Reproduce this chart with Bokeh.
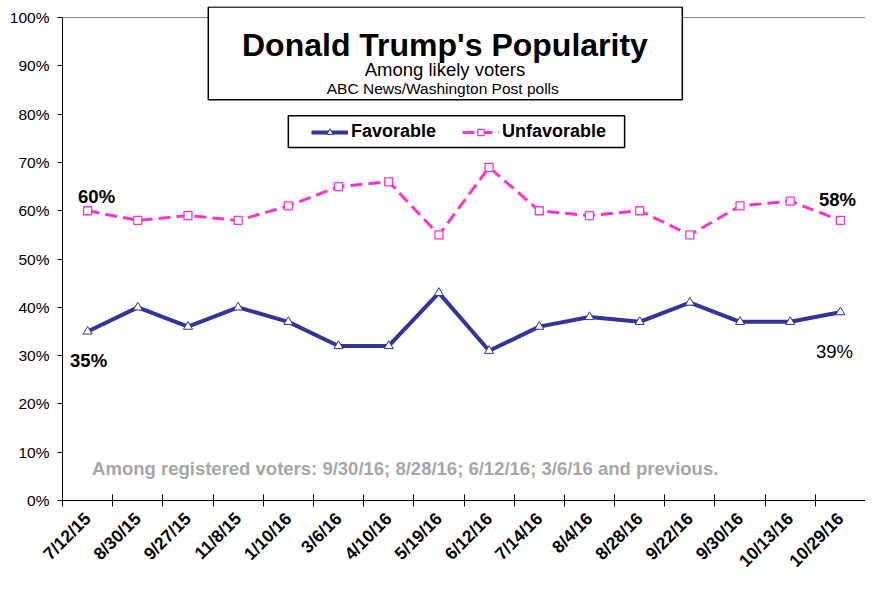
import math
from bokeh.plotting import figure
from bokeh.models import (Range1d, FixedTicker, LinearAxis, Span, BoxAnnotation,
                          Label, Legend, LegendItem)
from bokeh.embed import file_html
from bokeh.resources import INLINE

# ---- data ----
dates = ["7/12/15", "8/30/15", "9/27/15", "11/8/15", "1/10/16", "3/6/16", "4/10/16",
         "5/19/16", "6/12/16", "7/14/16", "8/4/16", "8/28/16", "9/22/16", "9/30/16",
         "10/13/16", "10/29/16"]
favorable = [35, 40, 36, 40, 37, 32, 32, 43, 31, 36, 38, 37, 41, 37, 37, 39]
unfavorable = [60, 58, 59, 58, 61, 65, 66, 55, 69, 60, 59, 60, 55, 61, 62, 58]
y_ticks = [0, 10, 20, 30, 40, 50, 60, 70, 80, 90, 100]
y_tick_labels = [f"{v}%" for v in y_ticks]

title_text = "Donald Trump's Popularity"
subtitle_text = "Among likely voters"
source_text = "ABC News/Washington  Post polls"
note_text = "Among registered voters: 9/30/16; 8/28/16; 6/12/16; 3/6/16 and previous."

FONT = "Liberation Sans"
BLUE = "#333399"
PINK = "#FF33CC"

n = len(dates)
xs = [i + 0.5 for i in range(n)]

p = figure(frame_width=803, frame_height=494,
           x_range=Range1d(0, n), y_range=Range1d(0, 102.3),
           output_backend="svg", toolbar_location=None,
           min_border_left=62, min_border_top=6, min_border_right=0, min_border_bottom=0)
p.xgrid.visible = False
p.ygrid.visible = False
p.outline_line_color = None
p.background_fill_color = "white"
p.border_fill_color = "white"

# x axis
xa = p.xaxis[0]
xa.ticker = FixedTicker(ticks=xs, minor_ticks=list(range(n + 1)))
xa.major_label_overrides = {x: d for x, d in zip(xs, dates)}
xa.major_label_orientation = math.pi / 4
xa.major_label_text_font = FONT
xa.major_label_text_font_style = "bold"
xa.major_label_text_font_size = "17.5px"
xa.major_label_text_color = "black"
xa.major_tick_line_color = None
xa.major_tick_out = 6
xa.major_tick_in = 0
xa.minor_tick_line_color = "black"
xa.minor_tick_out = 6
xa.minor_tick_in = 6
xa.major_label_standoff = 9
xa.axis_line_color = "black"

# y axis
ya = p.yaxis[0]
ya.ticker = FixedTicker(ticks=y_ticks, minor_ticks=[])
ya.major_label_overrides = {v: t for v, t in zip(y_ticks, y_tick_labels)}
ya.bounds = (0, 100)
ya.major_tick_out = 5
ya.major_tick_in = 0
ya.major_tick_line_color = "black"
ya.minor_tick_line_color = None
ya.major_label_text_font = FONT
ya.major_label_text_font_size = "15.5px"
ya.major_label_text_color = "black"
ya.major_label_standoff = 8
ya.axis_line_color = "black"

# right border (gray) and top border
ra = LinearAxis(bounds=(0, 100), ticker=FixedTicker(ticks=[]),
                axis_line_color="#808080", major_tick_line_color=None,
                minor_tick_line_color=None, major_label_text_font_size="0px",
                major_tick_out=0, major_tick_in=0, major_label_standoff=0)
p.add_layout(ra, "right")
p.add_layout(Span(location=100, dimension="width", line_color="#808080", line_width=1))

# series
fav_line = p.line(xs, favorable, line_color=BLUE, line_width=4)
fav_pts = p.scatter(xs, favorable, marker="triangle", size=9, fill_color="white",
                    line_color=BLUE, line_width=1)
unf_line = p.line(xs, unfavorable, line_color=PINK, line_width=3, line_dash="12 6")
unf_pts = p.scatter(xs, unfavorable, marker="square", size=8, fill_color="white",
                    line_color=PINK, line_width=1.3)

# data labels for first/last points
def data_label(x, y, txt, dx, dy, style="bold"):
    p.add_layout(Label(x=x, y=y, text=txt, x_offset=dx, y_offset=dy,
                       text_align="center", text_baseline="alphabetic", text_font=FONT,
                       text_font_style=style, text_font_size="18.5px", text_color="black"))

data_label(xs[0], unfavorable[0], f"{unfavorable[0]}%", 9, 14)
data_label(xs[0], favorable[0], f"{favorable[0]}%", 1, -29)
data_label(xs[-1], unfavorable[-1], f"{unfavorable[-1]}%", -3, 21)
data_label(xs[-1], favorable[-1], f"{favorable[-1]}%", -6, -39, style="normal")

# note
p.add_layout(Label(x=0.59, y=6.7, text=note_text, text_align="left", text_baseline="alphabetic",
                   text_font=FONT, text_font_style="bold", text_font_size="18.5px",
                   text_color="#A6A6A6"))

# title box
p.add_layout(BoxAnnotation(left=2.905, right=12.35, top=102.2, bottom=83.0,
                           fill_color="white", fill_alpha=1, line_color="black",
                           line_alpha=1, line_width=1.5))
p.add_layout(Label(x=7.62, y=94.3, text=title_text, text_align="center", text_baseline="alphabetic",
                   text_font=FONT, text_font_style="bold", text_font_size="32px", text_color="black"))
p.add_layout(Label(x=7.62, y=89.2, text=subtitle_text, text_align="center", text_baseline="alphabetic",
                   text_font=FONT, text_font_size="18.5px", text_color="black"))
p.add_layout(Label(x=7.62, y=85.4, text=source_text, text_align="center", text_baseline="alphabetic",
                   text_font=FONT, text_font_size="15.5px", text_color="black"))

# legend box + legend
p.add_layout(BoxAnnotation(left=4.5, right=11.2, top=79.7, bottom=73.1,
                           fill_color="white", fill_alpha=1, line_color="black",
                           line_alpha=1, line_width=1.5))
legend = Legend(items=[LegendItem(label="Favorable", renderers=[fav_line, fav_pts]),
                       LegendItem(label="Unfavorable", renderers=[unf_line, unf_pts])],
                orientation="horizontal", location=(249, 358),
                border_line_color=None, background_fill_alpha=0,
                label_text_font=FONT, label_text_font_style="bold", label_text_font_size="18px",
                label_text_color="black",
                glyph_width=37, glyph_height=16, label_standoff=3, spacing=26,
                padding=0, margin=0)
p.add_layout(legend)

open("out.html", "w").write(file_html(p, INLINE))
